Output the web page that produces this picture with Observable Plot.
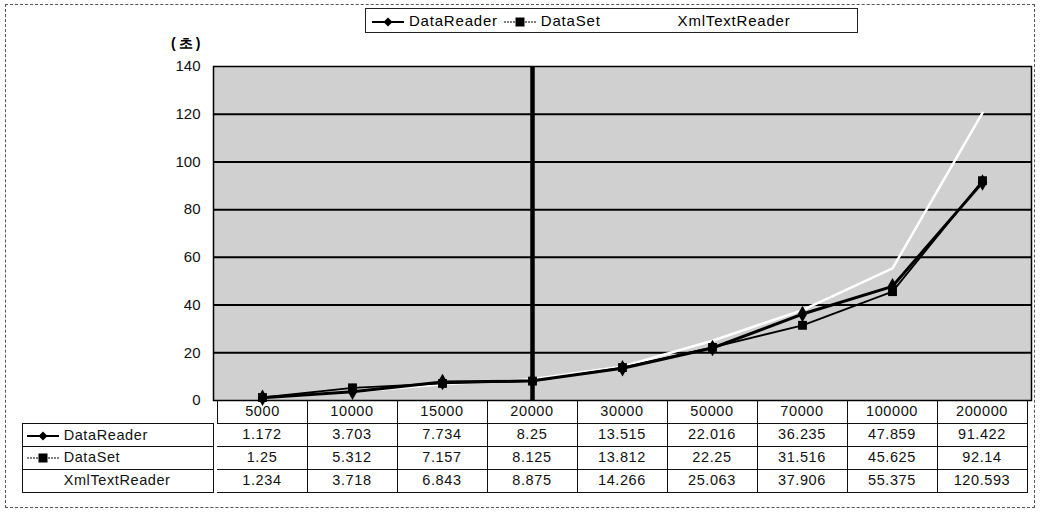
<!DOCTYPE html>
<html>
<head>
<meta charset="utf-8">
<script src="https://cdn.jsdelivr.net/npm/d3@7"></script>
<script src="https://cdn.jsdelivr.net/npm/@observablehq/plot@0.6"></script>
<style>
  html, body { margin: 0; padding: 0; background: #fff; }
  body { font-family: "Liberation Sans", Arial, sans-serif; }
  #root { position: relative; width: 1040px; height: 516px; overflow: hidden; }
  .abs { position: absolute; }
  .cell { position: absolute; box-sizing: border-box; border-right: 1px solid #111; border-bottom: 1px solid #111;
          font-size: 14.5px; letter-spacing: 0.6px; color: #111; text-align: center; line-height: 22px; }
  .lab { text-align: left; padding-left: 4px; white-space: nowrap; border-left: 1px solid #111; }
  .lab svg, #legend svg { vertical-align: middle; }
</style>
</head>
<body>
<div id="root"></div>
<script>
const categories = ["5000", "10000", "15000", "20000", "30000", "50000", "70000", "100000", "200000"];
const seriesNames = ["DataReader", "DataSet", "XmlTextReader"];
const dataReader = [1.172, 3.703, 7.734, 8.25, 13.515, 22.016, 36.235, 47.859, 91.422];
const dataSet = [1.25, 5.312, 7.157, 8.125, 13.812, 22.25, 31.516, 45.625, 92.14];
const xmlTextReader = [1.234, 3.718, 6.843, 8.875, 14.266, 25.063, 37.906, 55.375, 120.593];
const yTicks = [0, 20, 40, 60, 80, 100, 120, 140];
const gridLines = [20, 40, 60, 80, 100, 120];
const markedCategory = "20000";
const unitLabel = "(초)";

const seriesValues = [dataReader, dataSet, xmlTextReader];
const rows = [];
seriesNames.forEach((s, i) => categories.forEach((c, j) => rows.push({series: s, cat: c, value: seriesValues[i][j]})));

const root = document.getElementById("root");

// outer dashed frame
const frame = document.createElement("div");
frame.className = "abs";
Object.assign(frame.style, {left: "5px", top: "4px", width: "1030px", height: "504px", border: "1px dashed #555", boxSizing: "border-box"});
root.appendChild(frame);

function glyph(kind) {
  if (kind === "DataReader")
    return `<svg width="32" height="12"><line x1="0" y1="6" x2="32" y2="6" stroke="#000" stroke-width="2"/><path d="M16 1.5 L20.5 6 L16 10.5 L11.5 6Z" fill="#000"/></svg>`;
  if (kind === "DataSet")
    return `<svg width="32" height="12"><line x1="0" y1="6" x2="32" y2="6" stroke="#000" stroke-width="1.2" stroke-dasharray="2,1"/><rect x="11.5" y="1.5" width="9" height="9" fill="#000"/></svg>`;
  return `<svg width="32" height="12"></svg>`;
}

// legend
const legend = document.createElement("div");
legend.id = "legend";
legend.className = "abs";
Object.assign(legend.style, {left: "365px", top: "8px", width: "493px", height: "25px", border: "1px solid #222", boxSizing: "border-box",
  fontSize: "15px", letterSpacing: "0.8px", lineHeight: "23px", whiteSpace: "nowrap", paddingLeft: "6px"});
legend.innerHTML = seriesNames.map((s, i) =>
  `<span style="margin-right:${i === 1 ? 40 : 6}px">${glyph(s)} ${s}</span>`).join("");
root.appendChild(legend);

// unit label
const unit = document.createElement("div");
unit.className = "abs";
Object.assign(unit.style, {left: "171px", top: "35px", fontSize: "14px", fontWeight: "bold", letterSpacing: "3px"});
unit.textContent = unitLabel;
root.appendChild(unit);

// chart
const chart = Plot.plot({
  width: 1040,
  height: 364,
  marginLeft: 213,
  marginRight: 9,
  marginTop: 16,
  marginBottom: 14,
  style: {fontFamily: "Liberation Sans, Arial, sans-serif", fontSize: "15px", color: "#111", background: "transparent"},
  x: {type: "point", domain: categories, padding: 0.5, axis: null},
  y: {domain: [0, 140], ticks: yTicks, tickSize: 0, tickPadding: 13, label: null},
  marks: [
    Plot.frame({fill: "#d0d0d0", stroke: "none"}),
    Plot.ruleY(gridLines, {stroke: "#000", strokeWidth: 2}),
    Plot.line(rows.filter(d => d.series === "XmlTextReader"), {x: "cat", y: "value", stroke: "#fff", strokeWidth: 2.5}),
    Plot.line(rows.filter(d => d.series === "DataSet"), {x: "cat", y: "value", stroke: "#000", strokeWidth: 1.8}),
    Plot.line(rows.filter(d => d.series === "DataReader"), {x: "cat", y: "value", stroke: "#000", strokeWidth: 3}),
    Plot.dot(rows.filter(d => d.series === "DataSet"), {x: "cat", y: "value", symbol: "square", r: 5, fill: "#000"}),
    Plot.dot(rows.filter(d => d.series === "DataReader"), {x: "cat", y: "value", symbol: "diamond", r: 5, fill: "#000"}),
    Plot.ruleX([markedCategory], {stroke: "#000", strokeWidth: 4.5}),
    Plot.frame({stroke: "#000", strokeWidth: 1.5}),
    Plot.axisY({ticks: yTicks, tickSize: 0, tickPadding: 13, label: null})
  ]
});
chart.style.position = "absolute";
chart.style.left = "0px";
chart.style.top = "50px";
root.appendChild(chart);

// data table, laid out along the chart's own x scale
const xs = chart.scale("x");
const step = (1040 - 9 - 213) / categories.length;
const tableTop = 400, rowH = 23, labelLeft = 22, plotLeft = 213;
function addCell(html, left, top, w, h, cls) {
  const d = document.createElement("div");
  d.className = "cell" + (cls ? " " + cls : "");
  Object.assign(d.style, {left: left + "px", top: top + "px", width: w + "px", height: h + "px"});
  d.innerHTML = html;
  root.appendChild(d);
  return d;
}
categories.forEach((c, j) => {
  const cx = xs.apply(c);
  const hc = addCell(c, cx - step / 2, tableTop, step + 1, rowH + 1);
  if (j === 0) hc.style.borderLeft = "1px solid #111";
});
seriesNames.forEach((s, i) => {
  const top = tableTop + rowH * (i + 1);
  const lc = addCell(glyph(s) + " " + s, labelLeft, top, plotLeft - labelLeft + 1, rowH + 1, "lab");
  if (i === 0) lc.style.borderTop = "1px solid #111";
  categories.forEach((c, j) => {
    const cx = xs.apply(c);
    addCell(String(seriesValues[i][j]), cx - step / 2, top, step + 1, rowH + 1);
  });
});
</script>
</body>
</html>
